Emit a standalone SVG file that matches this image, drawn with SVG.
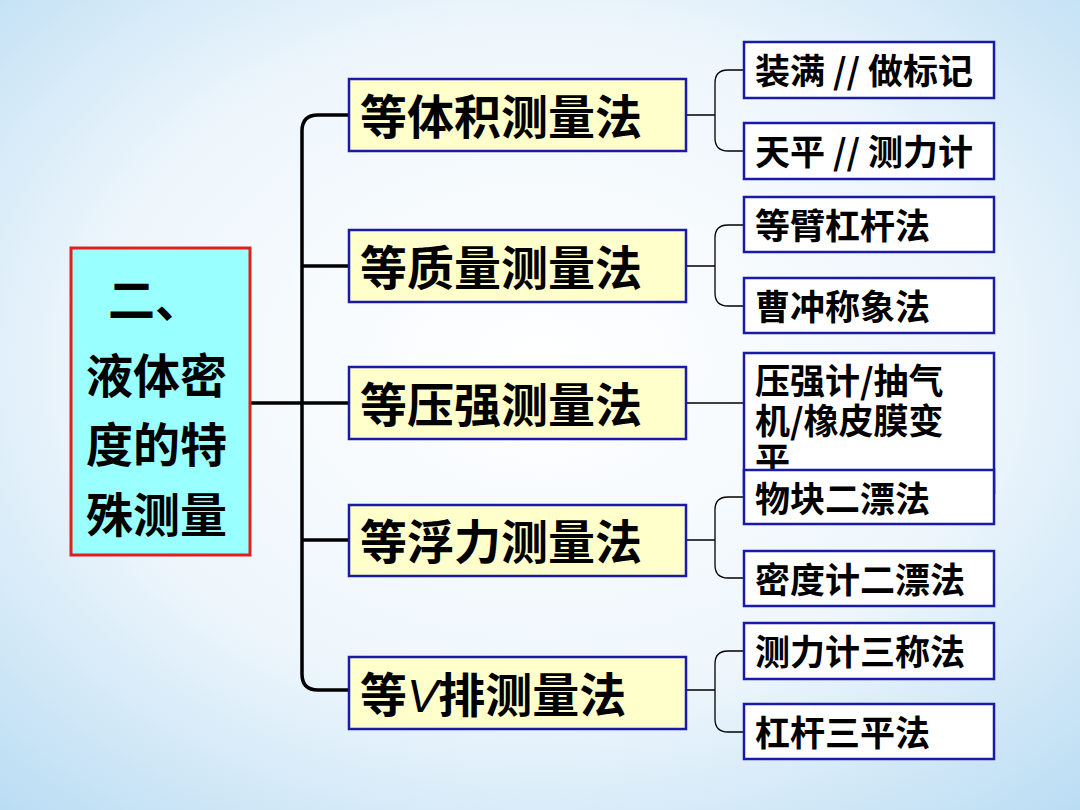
<svg xmlns="http://www.w3.org/2000/svg" width="1080" height="810" viewBox="0 0 1080 810">
<defs>
<radialGradient id="bg" cx="50%" cy="45%" r="75%">
<stop offset="0" stop-color="#ffffff"/><stop offset="0.55" stop-color="#eef6fc"/><stop offset="1" stop-color="#b9dcf3"/>
</radialGradient>
<style>
.mid{fill:#ffffcc;stroke:#1a1aa8;stroke-width:2.5}
.rt{fill:#ffffff;stroke:#1a1aa8;stroke-width:2.5}
.mt{font-family:"Noto Sans CJK SC",sans-serif;font-weight:bold;font-size:47px;fill:#000}
.rtt{font-family:"Noto Sans CJK SC",sans-serif;font-weight:bold;font-size:35px;fill:#000}
.thick{fill:none;stroke:#000;stroke-width:3.5}
.thin{fill:none;stroke:#000;stroke-width:1.3}
</style>
</defs>
<rect width="1080" height="810" fill="url(#bg)"/>
<g id="connectors">
<path class="thick" d="M250 403H349M349 115H318Q302 115 302 131V674Q302 690 318 690H349M302 266H349M302 540H349"/>
<path class="thin" d="M686 115H715M744 70H728Q715 70 715 83V138Q715 151 728 151H744"/>
<path class="thin" d="M686 266H715M744 225H728Q715 225 715 238V293Q715 306 728 306H744"/>
<path class="thin" d="M686 403H744"/>
<path class="thin" d="M686 540H715M744 497H728Q715 497 715 510V565Q715 578 728 578H744"/>
<path class="thin" d="M686 690H715M744 651H728Q715 651 715 664V719Q715 732 728 732H744"/>
</g>
<g id="root">
<rect x="71" y="248" width="179" height="307" fill="#99ffff" stroke="#e02020" stroke-width="3"/>
<text class="mt" x="108" y="317">二、</text>
<text class="mt" x="86" y="393">液体密</text>
<text class="mt" x="86" y="462">度的特</text>
<text class="mt" x="86" y="532">殊测量</text>
</g>
<g id="m1"><rect class="mid" x="349" y="79" width="337" height="72"/><text class="mt" x="360" y="134">等体积测量法</text></g>
<g id="m2"><rect class="mid" x="349" y="230" width="337" height="72"/><text class="mt" x="360" y="285">等质量测量法</text></g>
<g id="m3"><rect class="mid" x="349" y="367" width="337" height="72"/><text class="mt" x="360" y="422">等压强测量法</text></g>
<g id="m4"><rect class="mid" x="349" y="505" width="337" height="71"/><text class="mt" x="360" y="559">等浮力测量法</text></g>
<g id="m5"><rect class="mid" x="349" y="657" width="337" height="72"/><text class="mt" x="360" y="712">等<tspan font-family="Liberation Sans" font-style="italic" font-weight="normal">V</tspan>排测量法</text></g>
<g id="r1"><rect class="rt" x="744" y="42" width="250" height="56"/><text class="rtt" x="755" y="84">装满 // 做标记</text></g>
<g id="r2"><rect class="rt" x="744" y="123" width="250" height="56"/><text class="rtt" x="755" y="165">天平 // 测力计</text></g>
<g id="r3"><rect class="rt" x="744" y="197" width="250" height="55"/><text class="rtt" x="755" y="239">等臂杠杆法</text></g>
<g id="r4"><rect class="rt" x="744" y="278" width="250" height="55"/><text class="rtt" x="755" y="320">曹冲称象法</text></g>
<g id="r5"><rect class="rt" x="744" y="353" width="250" height="140"/><text class="rtt" x="755" y="394">压强计/抽气</text><text class="rtt" x="755" y="434">机/橡皮膜变</text><text class="rtt" x="755" y="473">平</text></g>
<g id="r6"><rect class="rt" x="744" y="470" width="250" height="54" fill="none"/><text class="rtt" x="755" y="512">物块二漂法</text></g>
<g id="r7"><rect class="rt" x="744" y="551" width="250" height="55"/><text class="rtt" x="755" y="593">密度计二漂法</text></g>
<g id="r8"><rect class="rt" x="744" y="623" width="250" height="56"/><text class="rtt" x="755" y="665">测力计三称法</text></g>
<g id="r9"><rect class="rt" x="744" y="704" width="250" height="55"/><text class="rtt" x="755" y="746">杠杆三平法</text></g>
</svg>
